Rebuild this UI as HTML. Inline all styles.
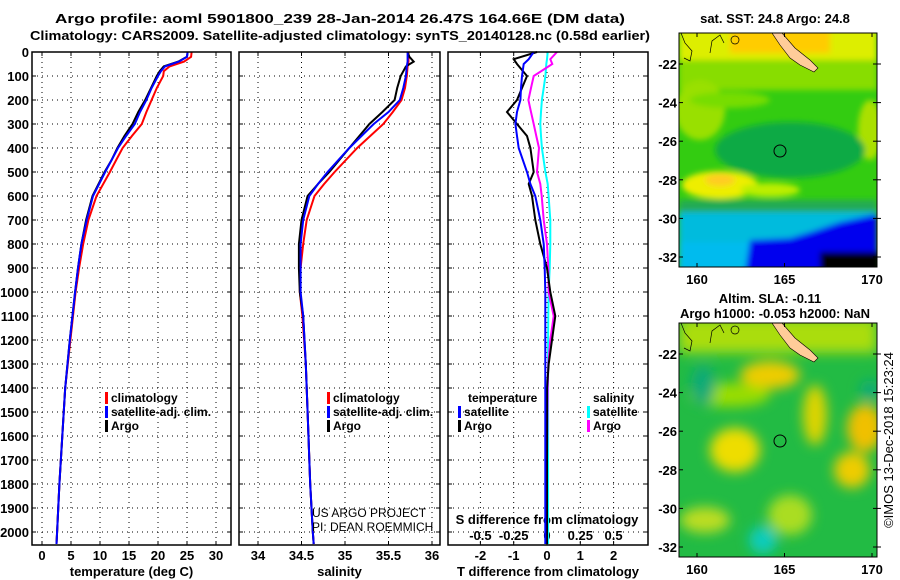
<!DOCTYPE html>
<html><head><meta charset="utf-8"><style>
html,body{margin:0;padding:0;background:#fff;}
svg{display:block;font-family:"Liberation Sans",sans-serif;}
.b{font-weight:bold;font-size:13px;fill:#000;}
.l{font-weight:bold;font-size:12px;fill:#000;}
</style></head><body>
<svg id="fig" width="900" height="580" viewBox="0 0 900 580">
<defs>
<filter id="blur6" x="-50%" y="-50%" width="200%" height="200%"><feGaussianBlur stdDeviation="6"/></filter>
<filter id="blur3" x="-50%" y="-50%" width="200%" height="200%"><feGaussianBlur stdDeviation="3"/></filter>
<clipPath id="cm1"><rect x="679" y="33" width="198" height="234"/></clipPath>
<clipPath id="cm2"><rect x="679" y="323" width="198" height="234"/></clipPath>
</defs>
<text class="b" x="55" y="23" font-size="14" textLength="570" lengthAdjust="spacingAndGlyphs">Argo profile: aoml 5901800_239 28-Jan-2014 26.47S 164.66E (DM data)</text>
<text class="b" x="30" y="40" font-size="14" textLength="620" lengthAdjust="spacingAndGlyphs">Climatology: CARS2009. Satellite-adjusted climatology: synTS_20140128.nc (0.58d earlier)</text>
<g id="panels"></g>
<!-- SST map -->
<g clip-path="url(#cm1)">
<rect x="679" y="33" width="198" height="234" fill="#33cc11"/>
<g filter="url(#blur3)">
<rect x="679" y="28" width="198" height="45" fill="#ddee00"/>
<rect x="730" y="28" width="100" height="25" fill="#ffcc00"/>
<rect x="679" y="60" width="198" height="30" fill="#88dd00"/>
<ellipse cx="700" cy="110" rx="25" ry="30" fill="#99e000"/>
<ellipse cx="870" cy="130" rx="12" ry="30" fill="#aae000"/>
<ellipse cx="730" cy="100" rx="40" ry="8" fill="#77dd00"/>
<ellipse cx="790" cy="150" rx="75" ry="28" fill="#11aa44"/>
<ellipse cx="720" cy="185" rx="38" ry="14" fill="#eeee00"/>
<ellipse cx="720" cy="180" rx="15" ry="6" fill="#ffcc22"/>
<ellipse cx="770" cy="190" rx="30" ry="7" fill="#bbee00"/>
<rect x="679" y="200" width="198" height="14" fill="#22aa55"/>
<rect x="679" y="212" width="198" height="30" fill="#00bbdd"/>
<rect x="679" y="242" width="198" height="30" fill="#00bbee"/>
<polygon points="745,272 750,240 790,238 810,232 840,222 877,214 877,272" fill="#0000ee"/>
<rect x="820" y="252" width="60" height="20" fill="#000"/>
</g>
<circle cx="780" cy="151" r="6" fill="none" stroke="#000"/>
</g>
<!-- SLA map -->
<g clip-path="url(#cm2)">
<rect x="679" y="323" width="198" height="234" fill="#22bb44"/>
<g filter="url(#blur6)">
<rect x="679" y="318" width="198" height="35" fill="#aadd11"/>
<ellipse cx="770" cy="375" rx="30" ry="14" fill="#eecc00"/>
<ellipse cx="730" cy="395" rx="40" ry="12" fill="#99dd00"/>
<ellipse cx="815" cy="415" rx="12" ry="30" fill="#ddd400"/>
<ellipse cx="865" cy="428" rx="18" ry="24" fill="#f0c000"/>
<ellipse cx="735" cy="450" rx="25" ry="22" fill="#eedd00"/>
<ellipse cx="852" cy="470" rx="18" ry="18" fill="#eecc00"/>
<ellipse cx="705" cy="520" rx="25" ry="13" fill="#bbdd22"/>
<ellipse cx="790" cy="515" rx="22" ry="20" fill="#aadd22"/>
<ellipse cx="703" cy="385" rx="12" ry="20" fill="#11aa77"/>
<ellipse cx="763" cy="540" rx="14" ry="14" fill="#11ccbb"/>
<ellipse cx="870" cy="390" rx="10" ry="10" fill="#11aa77"/>
</g>
<circle cx="780" cy="441" r="6" fill="none" stroke="#000"/>
</g>
<g id="maps-extra"></g>
<text class="b" x="775" y="23" text-anchor="middle">sat. SST: 24.8 Argo: 24.8</text>
<text class="b" x="770" y="303" text-anchor="middle">Altim. SLA: -0.11</text>
<text class="b" x="775" y="318" text-anchor="middle">Argo h1000: -0.053 h2000: NaN</text>
<text x="893" y="440" font-size="13" text-anchor="middle" transform="rotate(-90 893 440)">©IMOS 13-Dec-2018 15:23:24</text>
<text x="312" y="517" font-size="12">US ARGO PROJECT</text>
<text x="312" y="531" font-size="12">PI: DEAN ROEMMICH</text>
</svg>
<script>
// ---- data ----
const depthTicks=[0,100,200,300,400,500,600,700,800,900,1000,1100,1200,1300,1400,1500,1600,1700,1800,1900,2000];
const tempTicks=[0,5,10,15,20,25,30];
const salTicks=[34,34.5,35,35.5,36];
const tdiffTicks=[-2,-1,0,1,2];
const sdiffTicks=[-0.5,-0.25,0,0.25,0.5];
const lonTicks=[160,165,170];
const latTicks=[-22,-24,-26,-28,-30,-32];

const tDepth=[0,20,40,60,80,100,150,200,250,300,350,400,450,500,600,700,800,900,1000,1200,1400,1600,1800,2000,2050];
const tArgo=[25.1,25.0,23.5,21,20.3,19.8,18.8,17.8,16.6,15.6,14.2,13,12,10.8,8.7,7.6,6.8,6.2,5.7,4.8,4.0,3.5,3.0,2.6,2.5];
const tSat=[25.1,25.0,23.6,21.2,20.5,20,18.9,18,16.9,16,14.5,13.1,12,10.9,8.8,7.7,6.8,6.2,5.7,4.8,4.0,3.5,3.0,2.6,2.5];
const tClim=[25.8,25.7,24.5,22,21,20.9,19.8,18.9,18,17.2,15.5,13.9,12.8,11.7,9.4,8,7.1,6.4,5.8,4.9,4.0,3.5,3.0,2.6,2.5];

const sDepth=[0,20,40,60,100,150,200,250,300,400,500,550,600,700,800,900,1000,1100,1300,1500,1800,2000,2050];
const sArgo=[35.72,35.74,35.79,35.7,35.64,35.6,35.57,35.43,35.28,35.05,34.82,34.69,34.57,34.5,34.47,34.47,34.48,34.52,34.55,34.57,34.6,34.63,34.64];
const sSat=[35.72,35.72,35.72,35.71,35.7,35.67,35.63,35.5,35.33,35.05,34.8,34.69,34.59,34.52,34.49,34.49,34.49,34.52,34.55,34.57,34.6,34.63,34.64];
const sClim=[35.73,35.73,35.73,35.72,35.71,35.69,35.65,35.55,35.44,35.14,34.88,34.76,34.65,34.56,34.52,34.49,34.48,34.51,34.55,34.57,34.6,34.63,34.64];

const dDepth=[0,30,50,100,150,200,250,300,350,400,500,550,600,700,800,900,1000,1100,1200,1300,1400,1700,2050];
const dTArgo=[-0.3,-1.0,-0.9,-0.6,-0.75,-0.9,-1.2,-0.9,-0.6,-0.5,-0.4,-0.55,-0.45,-0.35,-0.2,0,0.1,0.25,0.15,0.05,0,0,0];
const dTSat=[-0.4,-0.55,-0.7,-0.75,-0.78,-0.8,-0.9,-0.95,-0.9,-0.85,-0.6,-0.5,-0.35,-0.2,-0.1,-0.07,-0.05,-0.05,-0.05,-0.05,-0.05,-0.05,-0.05];
const dSArgo=[0.075,0.025,0.04,-0.1,-0.12,-0.14,-0.12,-0.1,-0.08,-0.06,-0.075,-0.05,-0.04,-0.025,0,0.01,0.012,0.05,0.025,0.01,0.005,0,0];
const dSSat=[0.005,0,-0.005,-0.012,-0.025,-0.038,-0.045,-0.05,-0.045,-0.038,-0.012,0.005,0.012,0.025,0.025,0.02,0.012,0.01,0.008,0.008,0.008,0.008,0.008];

// ---- scales ----
const Y0=52, Y1=545;
const yS=d=>Y0+d*0.24;
const xT=t=>42+t*5.8;
const xS=s=>258+(s-34)*87;
const xD=d=>547+d*33.3;
const xSD=s=>547+s*133.2;

const NS='http://www.w3.org/2000/svg';
const root=document.getElementById('panels');
function mk(tag,attrs,parent){const e=document.createElementNS(NS,tag);for(const k in attrs)e.setAttribute(k,attrs[k]);(parent||root).appendChild(e);return e;}
function txt(x,y,s,anchor,parent,cls){const e=mk('text',{x:x,y:y,'text-anchor':anchor||'middle',class:cls||'b'},parent);e.textContent=s;return e;}

const panels=[{x0:32,x1:231,name:'temperature-panel'},{x0:239,x1:440,name:'salinity-panel'},{x0:448,x1:648,name:'difference-panel'}];
const xfun=[xT,xS,xD];
const xticks=[tempTicks,salTicks,tdiffTicks];
const xtitle=['temperature (deg C)','salinity','T difference from climatology'];

panels.forEach((p,i)=>{
  const g=mk('g',{});
  
  
  mk('rect',{x:p.x0,y:Y0,width:p.x1-p.x0,height:Y1-Y0,fill:'#fff'},g);
  depthTicks.forEach(d=>{
    if(d>0) mk('line',{x1:p.x0,x2:p.x1,y1:yS(d),y2:yS(d),stroke:'#000','stroke-width':1,'stroke-dasharray':'1,4'},g);
    mk('line',{x1:p.x0,x2:p.x0+4,y1:yS(d),y2:yS(d),stroke:'#000'},g);
    mk('line',{x1:p.x1-4,x2:p.x1,y1:yS(d),y2:yS(d),stroke:'#000'},g);
  });
  xticks[i].forEach(v=>{
    const x=xfun[i](v);
    mk('line',{x1:x,x2:x,y1:Y0,y2:Y1,stroke:'#000','stroke-dasharray':'1,4'},g);
    mk('line',{x1:x,x2:x,y1:Y1-4,y2:Y1,stroke:'#000'},g);
    mk('line',{x1:x,x2:x,y1:Y0,y2:Y0+4,stroke:'#000'},g);
    const t=txt(x,560,String(v),'middle',g);
    
    
  });
  const tt=txt((p.x0+p.x1)/2,576,xtitle[i],'middle',g);
  
  
  p.g=g;
});
depthTicks.forEach(d=>{
  const t=txt(29,yS(d)+5,String(d),'end');
  
  
});
sdiffTicks.forEach(v=>{
  const t=txt(xSD(v),540,String(v),'middle',panels[2].g);
  
  
});
{const t=txt(547,524,'S difference from climatology','middle',panels[2].g);

}

function series(depths,vals,xf,color,name,parent){
  const pts=depths.map((d,k)=>xf(vals[k]).toFixed(1)+','+yS(d).toFixed(1)).join(' ');
  const e=mk('polyline',{points:pts,fill:'none',stroke:color,'stroke-width':2},parent);
  
  
}
series(tDepth,tClim,xT,'#ff0000','temp-climatology-line',panels[0].g);
series(tDepth,tArgo,xT,'#000000','temp-argo-line',panels[0].g);
series(tDepth,tSat,xT,'#0000ff','temp-satellite-line',panels[0].g);
series(sDepth,sClim,xS,'#ff0000','sal-climatology-line',panels[1].g);
series(sDepth,sArgo,xS,'#000000','sal-argo-line',panels[1].g);
series(sDepth,sSat,xS,'#0000ff','sal-satellite-line',panels[1].g);
series(dDepth,dSSat,xSD,'#00ffff','sdiff-satellite-line',panels[2].g);
series(dDepth,dSArgo,xSD,'#ff00ff','sdiff-argo-line',panels[2].g);
series(dDepth,dTArgo,xD,'#000000','tdiff-argo-line',panels[2].g);
series(dDepth,dTSat,xD,'#0000ff','tdiff-satellite-line',panels[2].g);

panels.forEach(p=>mk('rect',{x:p.x0,y:Y0,width:p.x1-p.x0,height:Y1-Y0,fill:'none',stroke:'#000','stroke-width':1.5},p.g));

function legend(x,y,items,parent,name){
  const g=mk('g',{},parent);
  
  
  items.forEach((it,k)=>{
    const yy=y+k*14;
    if(it[1]) mk('rect',{x:x,y:yy-10,width:3,height:12,fill:it[1]},g);
    txt(x+(it[1]?6:0),yy,it[0],'start',g,'l');
  });
}
legend(105,402,[['climatology','#ff0000'],['satellite-adj. clim.','#0000ff'],['Argo','#000']],panels[0].g,'temp-legend');
legend(327,402,[['climatology','#ff0000'],['satellite-adj. clim.','#0000ff'],['Argo','#000']],panels[1].g,'sal-legend');
legend(468,402,[['temperature',null]],panels[2].g,'tdiff-legend-title');
legend(458,416,[['satellite','#0000ff'],['Argo','#000']],panels[2].g,'tdiff-legend');
legend(593,402,[['salinity',null]],panels[2].g,'sdiff-legend-title');
legend(587,416,[['satellite','#00ffff'],['Argo','#ff00ff']],panels[2].g,'sdiff-legend');

const me=document.getElementById('maps-extra');
const lonX=l=>697+(l-160)*17.5;
[[33,267,'sst'],[323,557,'sla']].forEach(([top,bot,nm])=>{
  const g=mk('g',{},me);
  
  
  mk('polygon',{points:`772,${top} 782,${top} 795,${top+15} 810,${top+27} 818,${top+35} 814,${top+39} 800,${top+32} 790,${top+25} 780,${top+12}`,fill:'#ffcc99',stroke:'#000','stroke-width':0.6},g);
  mk('polyline',{points:`681,${top} 685,${top+10} 692,${top+18} 690,${top+28} 684,${top+25}`,fill:'none',stroke:'#000','stroke-width':0.7},g);
  mk('polyline',{points:`710,${top+20} 712,${top+8} 720,${top+2} 724,${top+10}`,fill:'none',stroke:'#000','stroke-width':0.7},g);
  mk('ellipse',{cx:735,cy:top+7,rx:4,ry:4,fill:'none',stroke:'#000','stroke-width':0.7},g);
  mk('rect',{x:679,y:top,width:198,height:bot-top,fill:'none',stroke:'#000','stroke-width':1},g);
  lonTicks.forEach(l=>{
    mk('line',{x1:lonX(l),x2:lonX(l),y1:bot,y2:bot-4,stroke:'#000'},g);
    mk('line',{x1:lonX(l),x2:lonX(l),y1:top,y2:top+4,stroke:'#000'},g);
    txt(lonX(l),bot+17,String(l),'middle',g);
  });
  latTicks.forEach(la=>{
    const y=top+31+(-22-la)*19.3;
    mk('line',{x1:877,x2:873,y1:y,y2:y,stroke:'#000'},g);
    mk('line',{x1:679,x2:683,y1:y,y2:y,stroke:'#000'},g);
    mk('line',{x1:877,x2:881,y1:y,y2:y,stroke:'#000'},g);
    txt(677,y+5,String(la),'end',g);
  });
});
</script>
</body></html>
